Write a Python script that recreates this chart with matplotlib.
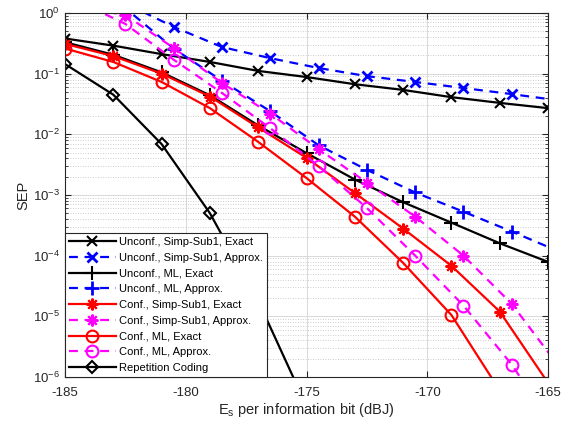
import numpy as np
import matplotlib
matplotlib.use("Agg")
import matplotlib.pyplot as plt

plt.rcParams['font.family'] = ['Liberation Sans', 'DejaVu Sans']
plt.rcParams['mathtext.fontset'] = 'custom'
plt.rcParams['mathtext.rm'] = 'Liberation Sans'
plt.rcParams['mathtext.it'] = 'Liberation Sans:italic'
plt.rcParams['axes.unicode_minus'] = False

# x grids (exact curves on odd dB, approximations on half-dB offsets)
x_exact = [-185, -183, -181, -179, -177, -175, -173, -171, -169, -167, -165]
x_approx = [-184.5, -182.5, -180.5, -178.5, -176.5, -174.5, -172.5, -170.5, -168.5, -166.5, -164.5]

# Unconf., Simp-Sub1
unconf_simp_exact = [0.38, 0.29, 0.21, 0.156, 0.111, 0.088, 0.067, 0.054, 0.041, 0.033, 0.027]
unconf_simp_approx = [3.0, 1.45, 0.59, 0.275, 0.18, 0.124, 0.091, 0.073, 0.058, 0.046, 0.036]
# Unconf., ML
unconf_ml_exact = [0.33, 0.205, 0.105, 0.044, 0.014, 0.0049, 0.0018, 7.6e-4, 3.5e-4, 1.6e-4, 7.9e-5]
unconf_ml_approx = [3.0, 1.2, 0.26, 0.076, 0.024, 0.0066, 0.0026, 0.0011, 5.3e-4, 2.5e-4, 1.15e-4]
# Conf., Simp-Sub1
conf_simp_exact = [0.31, 0.195, 0.10, 0.042, 0.013, 0.0041, 0.00108, 2.8e-4, 6.8e-5, 1.2e-5, 8e-7]
conf_simp_approx = [1.25, 0.93, 0.265, 0.07, 0.022, 0.0057, 0.0016, 4.4e-4, 1.0e-4, 1.6e-5, 1.4e-6]
# Conf., ML
conf_ml_exact = [0.26, 0.156, 0.073, 0.027, 0.0075, 0.0019, 4.4e-4, 7.6e-5, 1.05e-5, 6e-7, 3e-8]
conf_ml_approx = [1.6, 0.66, 0.17, 0.048, 0.0126, 0.003, 6.1e-4, 1.0e-4, 1.5e-5, 1.6e-6, 1e-7]
# Repetition coding
x_rep = [-185, -183, -181, -179, -177, -175]
rep_coding = [0.144, 0.045, 0.0069, 5.0e-4, 1.8e-5, 3.3e-7]

asterisk = (8, 2, 0)

fig = plt.figure(figsize=(5.63, 4.28), dpi=100)
ax = fig.add_axes([0.1155, 0.1192, 0.8579, 0.8504])

lw = 1.6
ms = 7.5
mew = 1.5
ax.plot(x_exact, unconf_simp_exact, '-', color='k', marker='x', lw=lw, ms=ms, mew=mew,
        label='Unconf., Simp-Sub1, Exact')
ax.plot(x_approx, unconf_simp_approx, '--', color='b', marker='x', lw=lw, ms=ms, mew=mew + 0.5,
        dashes=(4, 3), label='Unconf., Simp-Sub1, Approx.')
ax.plot(x_exact, unconf_ml_exact, '-', color='k', marker='+', lw=lw, ms=ms + 2, mew=mew,
        label='Unconf., ML, Exact')
ax.plot(x_approx, unconf_ml_approx, '--', color='b', marker='+', lw=lw, ms=ms + 2, mew=mew + 0.5,
        dashes=(4, 3), label='Unconf., ML, Approx.')
ax.plot(x_exact, conf_simp_exact, '-', color='r', marker=asterisk, lw=lw, ms=ms + 1, mew=mew,
        label='Conf., Simp-Sub1, Exact')
ax.plot(x_approx, conf_simp_approx, '--', color='magenta', marker=asterisk, lw=lw, ms=ms + 1, mew=mew,
        dashes=(4, 3), label='Conf., Simp-Sub1, Approx.')
ax.plot(x_exact, conf_ml_exact, '-', color='r', marker='o', mfc='none', lw=lw, ms=ms + 1, mew=mew,
        label='Conf., ML, Exact')
ax.plot(x_approx, conf_ml_approx, '--', color='magenta', marker='o', mfc='none', lw=lw, ms=ms + 1, mew=mew,
        dashes=(4, 3), label='Conf., ML, Approx.')
ax.plot(x_rep, rep_coding, '-', color='k', marker='D', mfc='none', lw=lw, ms=ms - 1, mew=mew,
        label='Repetition Coding')

ax.set_yscale('log')
ax.set_xlim(-185, -165)
ax.set_ylim(1e-6, 1)
ax.set_xticks([-185, -180, -175, -170, -165])
ax.set_yticks([1e-6, 1e-5, 1e-4, 1e-3, 1e-2, 1e-1, 1])

ax.grid(True, which='major', color='#d9d9d9', lw=0.7)
ax.grid(True, which='minor', axis='y', color='#bdbdbd', lw=0.6, ls=(0, (1, 2)))
ax.set_axisbelow(True)

ax.tick_params(which='both', direction='in', top=True, right=True, colors='#262626',
               labelsize=9.5, labelcolor='#262626')
ax.tick_params(which='major', length=4)
ax.tick_params(which='minor', length=2.5)
ax.tick_params(axis='x', pad=7)
for s in ax.spines.values():
    s.set_color('#262626')
    s.set_linewidth(0.8)

ax.set_xlabel(r'E$_{\rm s}$ per information bit (dBJ)', fontsize=10.5, color='#262626', labelpad=2)
ax.set_ylabel('SEP', fontsize=10.5, color='#262626', labelpad=2)

leg = ax.legend(loc='lower left', borderaxespad=0, fontsize=8, handlelength=4.2,
                labelspacing=0.52, handletextpad=0.3, borderpad=0.35,
                fancybox=False, framealpha=1, edgecolor='#262626')
leg.get_frame().set_linewidth(0.8)
leg.set_zorder(10)

fig.savefig('out.png', dpi=100)
